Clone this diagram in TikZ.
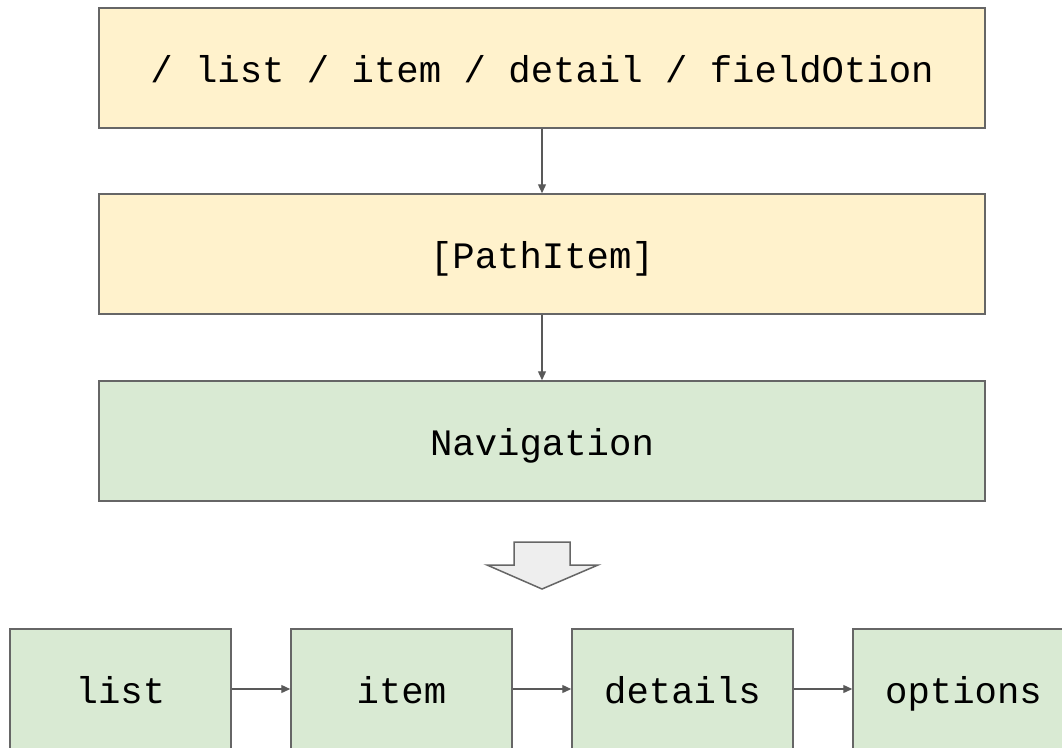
\documentclass[tikz,border=0pt]{standalone}
\usepackage{fontspec}
\setmonofont{Liberation Mono}
\usetikzlibrary{arrows.meta}
\definecolor{bordergray}{HTML}{666666}
\definecolor{arrowgray}{HTML}{595959}
\definecolor{ylw}{HTML}{FFF2CC}
\definecolor{grn}{HTML}{D9EAD3}
\definecolor{bigarrow}{HTML}{EEEEEE}
\begin{document}
\begin{tikzpicture}[x=1pt,y=-1pt,
  box/.style={draw=bordergray,line width=1.5pt,minimum height=120pt,inner sep=0pt,
    text height=29pt,text depth=0pt,
    font=\ttfamily\fontsize{37.3}{40}\selectfont,text=black},
  widebox/.style={box,minimum width=886pt},
  smallbox/.style={box,minimum width=221pt,fill=grn},
  conn/.style={draw=arrowgray,line width=1.3pt,-{Triangle[length=9pt,width=8pt]}}]
\useasboundingbox (0,0) rectangle (1062,747);
\node[widebox,fill=ylw] (path) at (542,68) {/ list / item / detail / fieldOtion};
\node[widebox,fill=ylw] (pitem) at (542,254) {[PathItem]};
\node[widebox,fill=grn] (nav) at (542,441) {Navigation};
\draw[bordergray,line width=1.5pt,fill=bigarrow,line join=miter]
  (514,542) -- (570,542) -- (570,565) -- (598,565) -- (542,589) -- (487,565) -- (514,565) -- cycle;
\node[smallbox] (list) at (120.5,689) {list};
\node[smallbox] (item) at (401.5,689) {item};
\node[smallbox] (details) at (682.5,689) {details};
\node[smallbox] (options) at (963.5,689) {options};
\draw[conn] (path) -- (pitem);
\draw[conn] (pitem) -- (nav);
\draw[conn] (list) -- (item);
\draw[conn] (item) -- (details);
\draw[conn] (details) -- (options);
\end{tikzpicture}
\end{document}
